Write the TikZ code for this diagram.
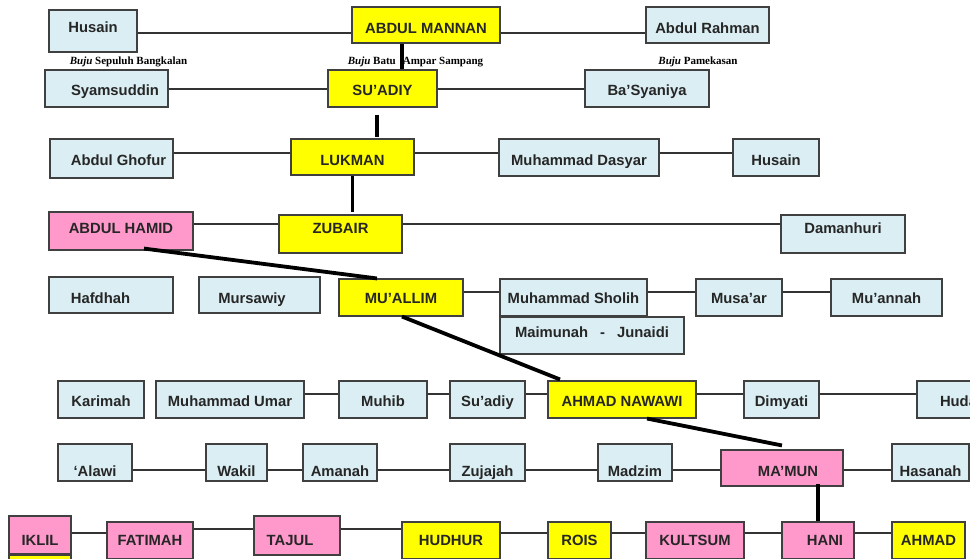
\documentclass[tikz,border=0pt]{standalone}
\usepackage{fontspec}
\setmainfont{Liberation Sans}
\newfontfamily\notefont{Liberation Serif}
\definecolor{kinblue}{RGB}{218,238,243}
\definecolor{kinpink}{RGB}{255,153,204}
\definecolor{kinyellow}{RGB}{255,255,0}
\definecolor{kinedge}{RGB}{64,64,64}
\tikzset{
	person/.style={draw=kinedge,line width=1.1pt,inner sep=0pt,text=black!85,font=\fontsize{14.8}{17}\selectfont\bfseries},
	kin/.style={person,fill=kinblue},
	heir/.style={person,fill=kinyellow},
	wife/.style={person,fill=kinpink},
	sz/.style 2 args={minimum width=#1pt,minimum height=#2pt},
	bl/.style={text height=#1pt,text depth=0pt},
	shr/.style={execute at begin node={\hspace*{#1pt}}},
	shl/.style={execute at end node={\hspace*{#1pt}}},
	link/.style={line width=1.1pt,draw=black!80},
	descent/.style={line width=3.8pt},
	note/.style={anchor=base,inner sep=0pt,font=\notefont\fontsize{11}{13}\selectfont\bfseries},
}
\begin{document}
\begin{tikzpicture}[x=1pt,y=-1pt]
	\useasboundingbox (0,0) rectangle (970,558);
	\clip (0,0) rectangle (970,558);
	\path (0,33) coordinate (r1)
	(0,89) coordinate (r2)
	(0,153) coordinate (r3)
	(0,224) coordinate (r4)
	(0,292) coordinate (r5)
	(0,394) coordinate (r6)
	(0,470) coordinate (r7)
	(0,533) coordinate (r8)
	(0,529) coordinate (r8b);

	\node[kin,sz={88}{42},bl=3.4] (husainA) at (93,31) {Husain};
	\node[heir,sz={148}{36},bl=16.6] (mannan) at (426,25) {ABDUL MANNAN};
	\node[kin,sz={123}{36},bl=16.6] (rahman) at (707.5,25) {Abdul Rahman};

	\node[note] (bangkalan) at (128.5,64.5) {\textit{Buju} Sepuluh Bangkalan};
	\node[note] (sampang) at (415.5,64.5) {\textit{Buju} Batu\hspace{7pt}Ampar Sampang};
	\node[note] (pamekasan) at (698,64.5) {\textit{Buju} Pamekasan};

	\node[kin,sz={123}{37},bl=13,shr=17] (syams) at (106.5,88.5) {Syamsuddin};
	\node[heir,sz={109}{37},bl=13] (suadiy) at (382.5,88.5) {SU’ADIY};
	\node[kin,sz={124}{37},bl=13] (basyan) at (647,88.5) {Ba’Syaniya};

	\node[kin,sz={123}{39},bl=13,shr=14] (ghofur) at (111.5,158.5) {Abdul Ghofur};
	\node[heir,sz={123}{36},bl=16] (lukman) at (352.5,157) {LUKMAN};
	\node[kin,sz={160}{37},bl=15] (dasyar) at (579,157.5) {Muhammad Dasyar};
	\node[kin,sz={86}{37},bl=15] (husainB) at (776,157.5) {Husain};

	\node[wife,sz={144}{38},bl=4.6] (hamid) at (121,231) {ABDUL HAMID};
	\node[heir,sz={123}{38},text height=0pt,text depth=1.4pt] (zubair) at (340.5,234) {ZUBAIR};
	\node[kin,sz={124}{38},text height=0pt,text depth=1.4pt] (daman) at (843,234) {Damanhuri};

	\node[kin,sz={124}{36},bl=16,shl=21] (hafdhah) at (111,295) {Hafdhah};
	\node[kin,sz={121}{36},bl=16,shl=15] (mursawiy) at (259.5,295) {Mursawiy};
	\node[heir,sz={124}{37},bl=11] (muallim) at (401,297.5) {MU’ALLIM};
	\node[kin,sz={147}{37},bl=11] (sholih) at (573.5,297.5) {Muhammad Sholih};
	\node[kin,sz={86}{37},bl=11] (musaar) at (739,297.5) {Musa’ar};
	\node[kin,sz={111}{37},bl=11] (muannah) at (886.5,297.5) {Mu’annah};
	\node[kin,sz={184}{37},bl=4.4] (maimunah) at (592,335.5) {Maimunah\hspace{12pt}-\hspace{12pt}Junaidi};

	\node[kin,sz={86}{37},bl=13] (karimah) at (101,399.5) {Karimah};
	\node[kin,sz={148}{37},bl=13] (umar) at (230,399.5) {Muhammad Umar};
	\node[kin,sz={88}{37},bl=13] (muhib) at (383,399.5) {Muhib};
	\node[kin,sz={75}{37},bl=13] (suadiyB) at (487.5,399.5) {Su’adiy};
	\node[heir,sz={148}{37},bl=13] (nawawi) at (622,399.5) {AHMAD NAWAWI};
	\node[kin,sz={75}{37},bl=13] (dimyati) at (781.5,399.5) {Dimyati};
	\node[kin,sz={83}{37},bl=13] (huda) at (958.5,399.5) {Huda};

	\node[kin,sz={74}{37},bl=27] (alawi) at (95,462.5) {‘Alawi};
	\node[kin,sz={61}{37},bl=27] (wakil) at (236.5,462.5) {Wakil};
	\node[kin,sz={74}{37},bl=27] (amanah) at (340,462.5) {Amanah};
	\node[kin,sz={75}{37},bl=27] (zujajah) at (487.5,462.5) {Zujajah};
	\node[kin,sz={74}{37},bl=27] (madzim) at (635,462.5) {Madzim};
	\node[wife,sz={122}{36},bl=16,shr=12] (mamun) at (782,468) {MA’MUN};
	\node[kin,sz={77}{37},bl=27] (hasanah) at (930.5,462.5) {Hasanah};

	\node[wife,sz={62}{38},bl=21.4] (iklil) at (40,535) {IKLIL};
	\node[heir,sz={62}{37}] (iklilB) at (40,573.5) {};
	\node[wife,sz={86}{37},bl=10.4] (fatimah) at (150,540.5) {FATIMAH};
	\node[wife,sz={86}{39},bl=20.4,shl=14] (tajul) at (297,535.5) {TAJUL};
	\node[heir,sz={98}{37},bl=10.4] (hudhur) at (451,540.5) {HUDHUR};
	\node[heir,sz={63}{37},bl=10.4] (rois) at (579.5,540.5) {ROIS};
	\node[wife,sz={98}{37},bl=10.4] (kultsum) at (695,540.5) {KULTSUM};
	\node[wife,sz={72}{37},bl=10.4,shr=14] (hani) at (818,540.5) {HANI};
	\node[heir,sz={73}{37},bl=10.4] (ahmad) at (928.5,540.5) {AHMAD};

	\draw[link] (husainA.east |- r1) -- (mannan.west |- r1);
	\draw[link] (mannan.east |- r1) -- (rahman.west |- r1);
	\draw[link] (syams.east |- r2) -- (suadiy.west |- r2);
	\draw[link] (suadiy.east |- r2) -- (basyan.west |- r2);
	\draw[link] (ghofur.east |- r3) -- (lukman.west |- r3);
	\draw[link] (lukman.east |- r3) -- (dasyar.west |- r3);
	\draw[link] (dasyar.east |- r3) -- (husainB.west |- r3);
	\draw[link] (hamid.east |- r4) -- (zubair.west |- r4);
	\draw[link] (zubair.east |- r4) -- (daman.west |- r4);
	\draw[link] (muallim.east |- r5) -- (sholih.west |- r5);
	\draw[link] (sholih.east |- r5) -- (musaar.west |- r5);
	\draw[link] (musaar.east |- r5) -- (muannah.west |- r5);
	\draw[link] (umar.east |- r6) -- (muhib.west |- r6);
	\draw[link] (muhib.east |- r6) -- (suadiyB.west |- r6);
	\draw[link] (suadiyB.east |- r6) -- (nawawi.west |- r6);
	\draw[link] (nawawi.east |- r6) -- (dimyati.west |- r6);
	\draw[link] (dimyati.east |- r6) -- (huda.west |- r6);
	\draw[link] (alawi.east |- r7) -- (wakil.west |- r7);
	\draw[link] (wakil.east |- r7) -- (amanah.west |- r7);
	\draw[link] (amanah.east |- r7) -- (zujajah.west |- r7);
	\draw[link] (zujajah.east |- r7) -- (madzim.west |- r7);
	\draw[link] (madzim.east |- r7) -- (mamun.west |- r7);
	\draw[link] (mamun.east |- r7) -- (hasanah.west |- r7);
	\draw[link] (iklil.east |- r8) -- (fatimah.west |- r8);
	\draw[link] (fatimah.east |- r8b) -- (tajul.west |- r8b);
	\draw[link] (tajul.east |- r8b) -- (hudhur.west |- r8b);
	\draw[link] (hudhur.east |- r8) -- (rois.west |- r8);
	\draw[link] (rois.east |- r8) -- (kultsum.west |- r8);
	\draw[link] (kultsum.east |- r8) -- (hani.west |- r8);
	\draw[link] (hani.east |- r8) -- (ahmad.west |- r8);

	\draw[descent] ([xshift=-24pt]mannan.south) -- ([xshift=19.5pt]suadiy.north);
	\draw[descent] ([xshift=-5.5pt,yshift=-7pt]suadiy.south) -- ([xshift=24.5pt,yshift=1pt]lukman.north);
	\draw[descent] (lukman.south) -- ([xshift=12pt,yshift=2pt]zubair.north);
	\draw[descent] ([xshift=23pt,yshift=2pt]hamid.south) -- ([xshift=-24pt]muallim.north);
	\draw[descent] ([xshift=1pt]muallim.south) -- ([xshift=-62pt,yshift=1pt]nawawi.north);
	\draw[descent] ([xshift=25pt]nawawi.south) -- ([yshift=4pt]mamun.north);
	\draw[descent] ([xshift=36pt,yshift=3pt]mamun.south) -- (hani.north);
\end{tikzpicture}
\end{document}
